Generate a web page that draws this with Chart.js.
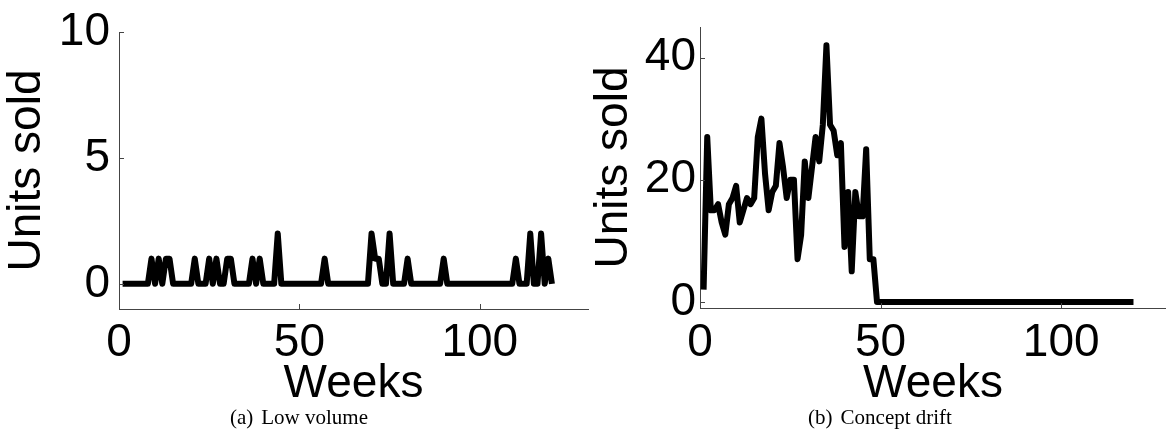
<!DOCTYPE html>
<html>
<head>
<meta charset="utf-8">
<script src="https://cdn.jsdelivr.net/npm/chart.js@4.4.0/dist/chart.umd.min.js"></script>
<style>
  html, body { margin: 0; padding: 0; background: #fff; width: 1166px; height: 435px; overflow: hidden; }
  #wrap { position: relative; width: 1166px; height: 435px; }
  canvas { position: absolute; top: 0; }
  #c1 { left: 0; }
  #c2 { left: 590px; }
  .cap { position: absolute; top: 405px; font-family: "Liberation Serif", "Times New Roman", serif; font-size: 21px; color: #000; white-space: nowrap; transform: translateX(-50%); }
  .cap span { margin-right: 8px; }
</style>
</head>
<body>
<div id="wrap">
  <canvas id="c1" width="600" height="410"></canvas>
  <canvas id="c2" width="576" height="410"></canvas>
  <div class="cap" style="left:299px;"><span>(a)</span>Low volume</div>
  <div class="cap" style="left:880px;"><span>(b)</span>Concept drift</div>
</div>
<script>
// ---- data ----
const weeks = [
  1,2,3,4,5,6,7,8,9,10,
  11,12,13,14,15,16,17,18,19,20,
  21,22,23,24,25,26,27,28,29,30,
  31,32,33,34,35,36,37,38,39,40,
  41,42,43,44,45,46,47,48,49,50,
  51,52,53,54,55,56,57,58,59,60,
  61,62,63,64,65,66,67,68,69,70,
  71,72,73,74,75,76,77,78,79,80,
  81,82,83,84,85,86,87,88,89,90,
  91,92,93,94,95,96,97,98,99,100,
  101,102,103,104,105,106,107,108,109,110,
  111,112,113,114,115,116,117,118,119,120
];
const lowVolume = [
  0,0,0,0,0,0,0,0,1,0,
  1,0,1,1,0,0,0,0,0,0,
  1,0,0,0,1,0,1,0,0,1,
  1,0,0,0,0,0,1,0,1,0,
  0,0,0,2,0,0,0,0,0,0,
  0,0,0,0,0,0,1,0,0,0,
  0,0,0,0,0,0,0,0,0,2,
  1,1,0,0,2,0,0,0,0,1,
  0,0,0,0,0,0,0,0,0,1,
  0,0,0,0,0,0,0,0,0,0,
  0,0,0,0,0,0,0,0,0,1,
  0,0,0,2,0,0,2,0,1,0
];
const conceptDrift = [
  2,27,15,15,16,13,11,16,17,19,
  13,15,17,16,17,27,30,21,15,18,
  19,26,22,17,20,20,7,11,23,17,
  22,27,23,29,42,29,28,24,26,9,
  18,5,18,14,14,25,7,7,0,0,
  0,0,0,0,0,0,0,0,0,0,
  0,0,0,0,0,0,0,0,0,0,
  0,0,0,0,0,0,0,0,0,0,
  0,0,0,0,0,0,0,0,0,0,
  0,0,0,0,0,0,0,0,0,0,
  0,0,0,0,0,0,0,0,0,0,
  0,0,0,0,0,0,0,0,0,0
];
const xTicks = [0, 50, 100];
const yTicksLow = [0, 5, 10];
const yTicksDrift = [0, 20, 40];
const xLabel = 'Weeks';
const yLabel = 'Units sold';

// ---- helpers ----
const FONT = 'Liberation Sans, Arial, Helvetica, sans-serif';
const AXIS_COLOR = '#444';

const inwardTicks = {
  id: 'inwardTicks',
  afterDraw(chart) {
    const ctx = chart.ctx;
    const xs = chart.scales.x, ys = chart.scales.y;
    const a = chart.chartArea;
    ctx.save();
    ctx.strokeStyle = AXIS_COLOR;
    ctx.lineWidth = 1;
    ctx.beginPath();
    xs.ticks.forEach(t => {
      const p = Math.round(xs.getPixelForValue(t.value)) + 0.5;
      ctx.moveTo(p, a.bottom);
      ctx.lineTo(p, a.bottom - 5);
    });
    ys.ticks.forEach(t => {
      const p = Math.round(ys.getPixelForValue(t.value)) + 0.5;
      ctx.moveTo(a.left, p);
      ctx.lineTo(a.left + 5, p);
    });
    ctx.stroke();
    ctx.restore();
  }
};

function makeChart(id, values, cfg) {
  const pts = weeks.map((w, i) => ({ x: w, y: values[i] }));
  return new Chart(document.getElementById(id), {
    type: 'line',
    data: {
      datasets: [{
        data: pts,
        borderColor: '#000',
        borderWidth: 6,
        pointRadius: 0,
        tension: 0,
        fill: false,
        borderJoinStyle: 'round',
        borderCapStyle: 'butt'
      }]
    },
    options: {
      responsive: false,
      animation: false,
      devicePixelRatio: 1,
      layout: { padding: cfg.padding },
      plugins: { legend: { display: false }, tooltip: { enabled: false } },
      scales: {
        x: {
          type: 'linear',
          position: 'bottom',
          min: 0,
          max: cfg.xMax,
          grid: { display: false, drawTicks: false, tickLength: 0 },
          border: { display: true, color: AXIS_COLOR, width: 1 },
          afterBuildTicks: s => { s.ticks = xTicks.map(v => ({ value: v })); },
          afterFit: s => { s.height = cfg.xHeight; },
          ticks: {
            color: '#000', padding: cfg.xTickPad, maxRotation: 0, autoSkip: false,
            font: { family: FONT, size: 46, lineHeight: 1 }
          },
          title: {
            display: true, text: xLabel, color: '#000',
            font: { family: FONT, size: 46, lineHeight: 1 },
            padding: { top: 0, bottom: cfg.xTitlePad }
          }
        },
        y: {
          type: 'linear',
          position: 'left',
          min: cfg.yMin,
          max: cfg.yMax,
          grid: { display: false, drawTicks: false, tickLength: 0 },
          border: { display: true, color: AXIS_COLOR, width: 1 },
          afterBuildTicks: s => { s.ticks = cfg.yTicks.map(v => ({ value: v })); },
          afterFit: s => { s.width = cfg.yWidth; },
          ticks: {
            color: '#000', padding: cfg.yTickPad, autoSkip: false,
            font: { family: FONT, size: 46, lineHeight: 1 }
          },
          title: {
            display: true, text: yLabel, color: '#000',
            font: { family: FONT, size: 46, lineHeight: 1 },
            padding: { top: cfg.yTitlePad, bottom: 0 }
          }
        }
      }
    },
    plugins: [inwardTicks]
  });
}

makeChart('c1', lowVolume, {
  padding: { top: 22, right: 12, left: 0, bottom: 0 },
  xMax: 130, yMin: -1, yMax: 10, yTicks: yTicksLow,
  xHeight: 101, yWidth: 119,
  xTickPad: 11, xTitlePad: 3, yTickPad: 9, yTitlePad: 4
});
makeChart('c2', conceptDrift, {
  padding: { top: 23, right: 0, left: 0, bottom: 0 },
  xMax: 129, yMin: -1, yMax: 45, yTicks: yTicksDrift,
  xHeight: 102, yWidth: 110,
  xTickPad: 12, xTitlePad: 3, yTickPad: 4, yTitlePad: 1
});
</script>
</body>
</html>
